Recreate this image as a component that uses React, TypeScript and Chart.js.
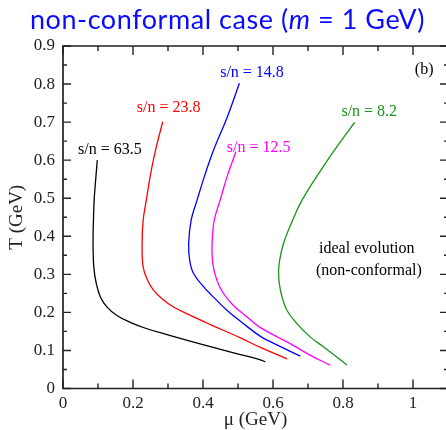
import React, { useEffect, useRef } from "react";
import { Chart, registerables } from "chart.js";

Chart.register(...registerables);

// ---- data (mu in GeV, T in GeV) ----
const muSn635 = [0.098, 0.093, 0.089, 0.087, 0.086, 0.086, 0.088, 0.095, 0.107, 0.126, 0.154, 0.192, 0.240, 0.307, 0.373, 0.469, 0.564, 0.578];
const tSn635 = [0.600, 0.545, 0.495, 0.442, 0.408, 0.370, 0.319, 0.276, 0.240, 0.214, 0.192, 0.174, 0.157, 0.139, 0.122, 0.098, 0.0755, 0.070];

const muSn238 = [0.285, 0.268, 0.254, 0.245, 0.238, 0.229, 0.226, 0.229, 0.242, 0.259, 0.283, 0.316, 0.364, 0.421, 0.507, 0.564, 0.640];
const tSn238 = [0.701, 0.640, 0.582, 0.535, 0.495, 0.442, 0.381, 0.319, 0.284, 0.258, 0.236, 0.214, 0.192, 0.168, 0.133, 0.108, 0.078];

const muSn148 = [0.504, 0.470, 0.430, 0.405, 0.383, 0.366, 0.359, 0.362, 0.373, 0.402, 0.430, 0.469, 0.516, 0.564, 0.592, 0.678];
const tSn148 = [0.802, 0.715, 0.626, 0.560, 0.495, 0.442, 0.381, 0.337, 0.302, 0.267, 0.240, 0.205, 0.170, 0.137, 0.123, 0.085];

const muSn125 = [0.494, 0.470, 0.449, 0.432, 0.426, 0.428, 0.440, 0.459, 0.487, 0.526, 0.564, 0.649, 0.707, 0.764];
const tSn125 = [0.622, 0.560, 0.495, 0.442, 0.381, 0.328, 0.284, 0.249, 0.218, 0.188, 0.160, 0.118, 0.087, 0.061];

const muSn82 = [0.833, 0.790, 0.745, 0.683, 0.656, 0.630, 0.619, 0.616, 0.618, 0.626, 0.640, 0.669, 0.707, 0.745, 0.811];
const tSn82 = [0.699, 0.645, 0.585, 0.495, 0.442, 0.381, 0.337, 0.311, 0.276, 0.240, 0.205, 0.170, 0.135, 0.109, 0.062];

const seriesNames = ["s/n = 63.5", "s/n = 23.8", "s/n = 14.8", "s/n = 12.5", "s/n = 8.2"];
const seriesMu = [muSn635, muSn238, muSn148, muSn125, muSn82];
const seriesT = [tSn635, tSn238, tSn148, tSn125, tSn82];
const seriesColors = ["#000000", "#ff0000", "#0000ff", "#ff00ff", "#1a931a"];

// curve labels, anchored in data coordinates
const labelMu = [0.134, 0.302, 0.540, 0.559, 0.875];
const labelT = [0.626, 0.737, 0.830, 0.632, 0.727];

const noteTexts = ["(b)", "ideal evolution", "(non-conformal)"];
const noteMu = [1.032, 0.868, 0.874];
const noteT = [0.837, 0.366, 0.308];

const xTickValues = [0, 0.2, 0.4, 0.6, 0.8, 1.0];
const xTickLabels = ["0", "0.2", "0.4", "0.6", "0.8", "1"];
const yTickValues = [0, 0.1, 0.2, 0.3, 0.4, 0.5, 0.6, 0.7, 0.8, 0.9];
const yTickLabels = ["0", "0.1", "0.2", "0.3", "0.4", "0.5", "0.6", "0.7", "0.8", "0.9"];

const SERIF = "'Liberation Serif', 'Times New Roman', serif";

const framePlugin = {
  id: "frameTicks",
  afterDraw(chart: any) {
    const { ctx, chartArea: a, scales } = chart;
    const xs = scales.x;
    const ys = scales.y;
    ctx.save();
    ctx.strokeStyle = "#222222";
    ctx.lineWidth = 1.7;
    ctx.beginPath();
    ctx.moveTo(a.left, a.top);
    ctx.lineTo(a.right, a.top);
    ctx.lineTo(a.right, a.bottom);
    ctx.lineTo(a.left, a.bottom);
    ctx.closePath();
    ctx.stroke();
    ctx.lineWidth = 1.4;
    ctx.beginPath();
    for (let i = 0; i <= 11; i++) {
      const px = xs.getPixelForValue(i / 10);
      const len = i % 2 === 0 ? 9 : 5;
      ctx.moveTo(px, a.bottom);
      ctx.lineTo(px, a.bottom - len);
      ctx.moveTo(px, a.top);
      ctx.lineTo(px, a.top + len);
    }
    for (let i = 0; i <= 18; i++) {
      const py = ys.getPixelForValue(i / 20);
      const len = i % 2 === 0 ? 8 : 4;
      ctx.moveTo(a.left, py);
      ctx.lineTo(a.left + len, py);
      ctx.moveTo(a.right, py);
      ctx.lineTo(a.right - len, py);
    }
    ctx.stroke();

    ctx.textAlign = "center";
    ctx.textBaseline = "middle";
    ctx.font = `16px ${SERIF}`;
    seriesNames.forEach((t, i) => {
      ctx.fillStyle = seriesColors[i];
      ctx.fillText(t, xs.getPixelForValue(labelMu[i]), ys.getPixelForValue(labelT[i]));
    });
    ctx.fillStyle = "#000";
    noteTexts.forEach((t, i) => {
      ctx.fillText(t, xs.getPixelForValue(noteMu[i]), ys.getPixelForValue(noteT[i]));
    });
    ctx.restore();
  },
};

export default function App() {
  const ref = useRef<HTMLCanvasElement | null>(null);
  useEffect(() => {
    document.body.style.margin = "0";
    const canvas = ref.current;
    if (!canvas) return;
    const datasets = seriesNames.map((name, i) => ({
      label: name,
      data: seriesMu[i].map((m, j) => ({ x: m, y: seriesT[i][j] })),
      borderColor: seriesColors[i],
      backgroundColor: seriesColors[i],
      borderWidth: 1.3,
      pointRadius: 0,
      fill: false,
      tension: 0.4,
    }));
    const chart = new Chart(canvas, {
      type: "line",
      data: { datasets },
      options: {
        animation: false,
        responsive: false,
        devicePixelRatio: 1,
        layout: { padding: { top: 46, right: 2, bottom: 0, left: 0 } },
        plugins: { legend: { display: false }, tooltip: { enabled: false }, title: { display: false } },
        scales: {
          x: {
            type: "linear",
            min: 0,
            max: 1.1,
            grid: { display: false, drawTicks: false },
            border: { display: false },
            afterBuildTicks: (s: any) => {
              s.ticks = xTickValues.map((v) => ({ value: v }));
            },
            afterFit: (s: any) => {
              s.height = 41.5;
            },
            ticks: {
              autoSkip: false,
              maxRotation: 0,
              padding: 5,
              color: "#222",
              font: { family: SERIF, size: 17 },
              callback: (v: any, i: number) => xTickLabels[i],
            },
            title: {
              display: true,
              text: "μ (GeV)",
              color: "#222",
              font: { family: SERIF, size: 19, lineHeight: 1 },
              padding: { top: 0, bottom: 0 },
            },
          },
          y: {
            type: "linear",
            min: 0,
            max: 0.9,
            grid: { display: false, drawTicks: false },
            border: { display: false },
            afterBuildTicks: (s: any) => {
              s.ticks = yTickValues.map((v) => ({ value: v }));
            },
            afterFit: (s: any) => {
              s.width = 63;
            },
            ticks: {
              autoSkip: false,
              padding: 8,
              color: "#222",
              font: { family: SERIF, size: 17 },
              callback: (v: any, i: number) => yTickLabels[i],
            },
            title: {
              display: true,
              text: "T (GeV)",
              color: "#222",
              font: { family: SERIF, size: 19, lineHeight: 1 },
              padding: { top: 8, bottom: 0 },
            },
          },
        },
      },
      plugins: [framePlugin],
    });
    return () => chart.destroy();
  }, []);

  return (
    <div style={{ position: "absolute", left: 0, top: 0, width: 446, height: 430, overflow: "hidden", background: "#fff" }}>
      <canvas ref={ref} width={450} height={430} style={{ position: "absolute", left: 0, top: 0, width: 450, height: 430 }} />
      <div
        style={{
          position: "absolute",
          left: 30,
          top: 2,
          fontFamily: "Lato, 'Open Sans', sans-serif",
          fontSize: 27,
          lineHeight: "34px",
          letterSpacing: "0.55px",
          color: "#0a0aff",
          whiteSpace: "nowrap",
        }}
      >
        non-conformal case (<i>m</i> = 1 GeV)
      </div>
    </div>
  );
}
